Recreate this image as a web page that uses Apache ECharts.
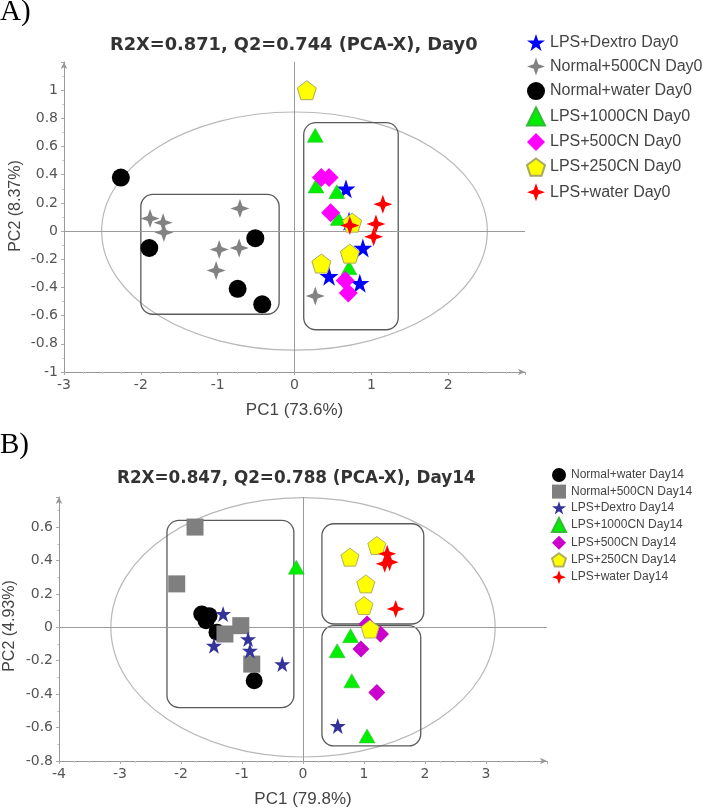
<!DOCTYPE html>
<html><head><meta charset="utf-8">
<script src="https://cdn.jsdelivr.net/npm/echarts@6/dist/echarts.min.js"></script>
<style>html,body{margin:0;padding:0;background:#fff}#c{width:705px;height:809px}</style>
</head><body><div id="c"></div>
<script>
// ---------- Panel A (Day0) ----------
const titleA = 'R2X=0.871, Q2=0.744 (PCA-X), Day0';
const namesA = ['LPS+Dextro Day0','Normal+500CN Day0','Normal+water Day0','LPS+1000CN Day0','LPS+500CN Day0','LPS+250CN Day0','LPS+water Day0'];
const a_dextro      = [[0.67,0.30],[0.71,0.07],[0.89,-0.12],[0.45,-0.32],[0.85,-0.37]];
const a_normal500   = [[-1.88,0.09],[-1.71,0.06],[-1.70,-0.01],[-0.71,0.16],[-0.98,-0.13],[-0.72,-0.12],[-1.02,-0.28],[0.27,-0.46]];
const a_normalWater = [[-2.26,0.38],[-1.89,-0.12],[-0.51,-0.05],[-0.74,-0.41],[-0.42,-0.52]];
const a_lps1000     = [[0.27,0.68],[0.28,0.32],[0.55,0.28],[0.57,0.09],[0.71,-0.26]];
const a_lps500      = [[0.35,0.38],[0.45,0.38],[0.47,0.13],[0.66,-0.35],[0.70,-0.44]];
const a_lps250      = [[0.16,1.0],[0.75,0.06],[0.72,-0.16],[0.35,-0.23]];
const a_lpsWater    = [[1.15,0.19],[1.06,0.05],[1.03,-0.04],[0.72,0.04]];
const xTicksA = [-3,-2,-1,0,1,2];
const yTicksA = [-1,-0.8,-0.6,-0.4,-0.2,0,0.2,0.4,0.6,0.8,1];
const xRangeA = [-3,3];
const yRangeA = [-1,1.2];
const ellipseA = [[0,0,2.51,0.845]];               // centre x, centre y, semi-axis x, semi-axis y
const boxesA = [[-2.0,0.26,-0.2,-0.59],[0.12,0.77,1.35,-0.70]]; // x0, yTop, x1, yBottom

// ---------- Panel B (Day14) ----------
const titleB = 'R2X=0.847, Q2=0.788 (PCA-X), Day14';
const namesB = ['Normal+water Day14','Normal+500CN Day14','LPS+Dextro Day14','LPS+1000CN Day14','LPS+500CN Day14','LPS+250CN Day14','LPS+water Day14'];
const b_normalWater = [[-1.66,0.08],[-1.54,0.07],[-1.59,0.04],[-1.41,-0.03],[-0.80,-0.32]];
const b_normal500   = [[-1.77,0.60],[-2.07,0.26],[-1.02,0.01],[-1.28,-0.04],[-0.84,-0.22]];
const b_dextro      = [[-1.31,0.08],[-1.46,-0.11],[-0.90,-0.07],[-0.87,-0.14],[-0.34,-0.22],[0.57,-0.59]];
const b_lps1000     = [[-0.11,0.36],[0.78,-0.05],[0.56,-0.14],[0.80,-0.32],[1.05,-0.65]];
const b_lps500      = [[1.05,0.02],[1.27,-0.04],[0.95,-0.13],[1.21,-0.39]];
const b_lps250      = [[0.77,0.42],[1.21,0.49],[1.03,0.26],[1.00,0.13],[1.10,-0.01]];
const b_lpsWater    = [[1.38,0.44],[1.34,0.38],[1.42,0.39],[1.52,0.11]];
const xTicksB = [-4,-3,-2,-1,0,1,2,3];
const yTicksB = [-0.8,-0.6,-0.4,-0.2,0,0.2,0.4,0.6];
const xRangeB = [-4,4];
const yRangeB = [-0.8,0.78];
const ellipseB = [[0,0,3.15,0.776]];
const boxesB = [[-2.23,0.64,-0.15,-0.48],[0.31,0.62,1.98,0.02],[0.31,0.01,1.93,-0.71]];

// ---------- symbols ----------
const STAR5 = 'path://M50,0 L61.8,35.4 L99,35.4 L69,57.3 L80.4,92.7 L50,70.8 L19.6,92.7 L31,57.3 L1,35.4 L38.2,35.4 Z';
const STAR4 = 'path://M50,0 L63,37 L100,50 L63,63 L50,100 L37,63 L0,50 L37,37 Z';
const PENTA = 'path://M50,0 L100,36.3 L80.9,95 L19.1,95 L0,36.3 Z';

const TICKFONT = 'DejaVu Sans';
const fmt = ticks => v => ticks.some(t => Math.abs(t - v) < 1e-6) ? String(+v.toFixed(2)) : '';

function ellipseRender(params, api) {
  const c = api.coord([api.value(0), api.value(1)]);
  const s = api.size([api.value(2), api.value(3)]);
  return { type: 'ellipse', shape: { cx: c[0], cy: c[1], rx: s[0], ry: s[1] },
           style: { fill: 'none', stroke: '#b8b8b8', lineWidth: 1.2 }, silent: true };
}
function boxRender(params, api) {
  const p0 = api.coord([api.value(0), api.value(1)]);
  const p1 = api.coord([api.value(2), api.value(3)]);
  return { type: 'rect', shape: { x: p0[0], y: p0[1], width: p1[0] - p0[0], height: p1[1] - p0[1], r: 12 },
           style: { fill: 'none', stroke: '#5a5a5a', lineWidth: 1.3 }, silent: true };
}

function xAxis(gridIndex, range, ticks, name) {
  return {
    type: 'value', gridIndex, min: range[0], max: range[1], interval: ticks[1] - ticks[0],
    name, nameLocation: 'middle', nameGap: 30,
    nameTextStyle: { fontFamily: 'Liberation Sans', fontSize: 17, color: '#444' },
    axisLine: { onZero: false, lineStyle: { color: '#999' }, symbol: ['none', 'arrow'], symbolSize: [5, 7] },
    axisTick: { show: true, length: 3, lineStyle: { color: '#aaa' } },
    minorTick: { show: true, splitNumber: 4, length: 2, lineStyle: { color: '#ccc' } },
    splitLine: { show: false },
    axisLabel: { formatter: fmt(ticks), fontFamily: TICKFONT, fontSize: 14, color: '#555', margin: 6, showMaxLabel: true }
  };
}
function yAxis(gridIndex, range, ticks) {
  return {
    type: 'value', gridIndex, min: range[0], max: range[1], interval: +(ticks[1] - ticks[0]).toFixed(4),
    axisLine: { onZero: false, lineStyle: { color: '#999' }, symbol: ['none', 'arrow'], symbolSize: [5, 7] },
    axisTick: { show: true, length: 3, lineStyle: { color: '#aaa' } },
    minorTick: { show: true, splitNumber: 2, length: 2, lineStyle: { color: '#ccc' } },
    splitLine: { show: false },
    axisLabel: { formatter: fmt(ticks), fontFamily: TICKFONT, fontSize: 14, color: '#555', margin: 6 }
  };
}

const zeroLines = {
  silent: true, symbol: ['none', 'none'], label: { show: false }, animation: false,
  lineStyle: { color: '#9a9a9a', type: 'solid', width: 1 },
  data: [{ xAxis: 0 }, { yAxis: 0 }]
};

function sc(name, data, axisIdx, symbol, size, color, border, borderW) {
  return {
    type: 'scatter', name, data, xAxisIndex: axisIdx, yAxisIndex: axisIdx,
    symbol, symbolSize: size,
    itemStyle: { color, opacity: 1, borderColor: border || color, borderWidth: borderW || 0 },
    emphasis: { disabled: true }, z: 5
  };
}

const series = [
  { type: 'custom', data: ellipseA, xAxisIndex: 0, yAxisIndex: 0, renderItem: ellipseRender, encode: { x: 0, y: 1 }, z: 1, silent: true },
  { type: 'custom', data: boxesA, xAxisIndex: 0, yAxisIndex: 0, renderItem: boxRender, encode: { x: [0, 2], y: [1, 3] }, z: 2, silent: true, markLine: zeroLines },
  sc(namesA[0], a_dextro, 0, STAR5, 19, '#0000ff'),
  sc(namesA[1], a_normal500, 0, STAR4, 19, '#828282'),
  sc(namesA[2], a_normalWater, 0, 'circle', 18, '#000000'),
  sc(namesA[3], a_lps1000, 0, 'triangle', [16, 14], '#00ee00', '#33bb33', 0.5),
  sc(namesA[4], a_lps500, 0, 'diamond', 19, '#ff00ff'),
  sc(namesA[5], a_lps250, 0, PENTA, 19, '#ffff00', '#a8a860', 1),
  sc(namesA[6], a_lpsWater, 0, STAR4, 19, '#ff0000'),

  { type: 'custom', data: ellipseB, xAxisIndex: 1, yAxisIndex: 1, renderItem: ellipseRender, encode: { x: 0, y: 1 }, z: 1, silent: true },
  { type: 'custom', data: boxesB, xAxisIndex: 1, yAxisIndex: 1, renderItem: boxRender, encode: { x: [0, 2], y: [1, 3] }, z: 2, silent: true, markLine: zeroLines },
  sc(namesB[0], b_normalWater, 1, 'circle', 17, '#000000'),
  sc(namesB[1], b_normal500, 1, 'rect', 17, '#7f7f7f'),
  sc(namesB[2], b_dextro, 1, STAR5, 16, '#333399'),
  sc(namesB[3], b_lps1000, 1, 'triangle', [16, 14], '#00ee00', '#33bb33', 0.5),
  sc(namesB[4], b_lps500, 1, 'diamond', 17, '#cc00cc'),
  sc(namesB[5], b_lps250, 1, PENTA, 18, '#ffff00', '#b0b060', 1),
  sc(namesB[6], b_lpsWater, 1, STAR4, 18, '#ff0000')
];

const option = {
  animation: false,
  backgroundColor: '#ffffff',
  title: [
    { text: 'A)', left: 0, top: -2, padding: 0, textStyle: { fontFamily: 'Liberation Serif', fontWeight: 'normal', fontSize: 29, color: '#000' } },
    { text: 'B)', left: 0, top: 431, padding: 0, textStyle: { fontFamily: 'Liberation Serif', fontWeight: 'normal', fontSize: 29, color: '#000' } },
    { text: titleA, left: 110, top: 36, padding: 0, textStyle: { fontFamily: 'DejaVu Sans', fontWeight: 'bold', fontSize: 17.8, color: '#333' } },
    { text: titleB, left: 117, top: 470, padding: 0, textStyle: { fontFamily: 'DejaVu Sans', fontWeight: 'bold', fontSize: 16.8, color: '#333' } }
  ],
  legend: [
    { data: namesA, orient: 'vertical', left: 526, top: 34, itemWidth: 18, itemHeight: 18, itemGap: 6.5,
      padding: 0, selectedMode: false, textStyle: { fontFamily: 'Liberation Sans', fontSize: 16, color: '#444' } },
    { data: namesB, orient: 'vertical', left: 551, top: 468, itemWidth: 14, itemHeight: 14, itemGap: 2.6,
      padding: 0, selectedMode: false, textStyle: { fontFamily: 'Liberation Sans', fontSize: 12, color: '#444' } }
  ],
  grid: [
    { left: 64, right: 180, top: 62, bottom: 437, containLabel: false },
    { left: 59, right: 158, top: 497, bottom: 42, containLabel: false }
  ],
  xAxis: [ xAxis(0, xRangeA, xTicksA, 'PC1 (73.6%)'), xAxis(1, xRangeB, xTicksB, 'PC1 (79.8%)') ],
  yAxis: [ yAxis(0, yRangeA, yTicksA), yAxis(1, yRangeB, yTicksB) ],
  graphic: [
    { type: 'text', x: 16, y: 206, rotation: Math.PI / 2, style: { text: 'PC2 (8.37%)', fontFamily: 'Liberation Sans', fontSize: 16, fill: '#444', align: 'center', verticalAlign: 'middle' } },
    { type: 'text', x: 10, y: 626, rotation: Math.PI / 2, style: { text: 'PC2 (4.93%)', fontFamily: 'Liberation Sans', fontSize: 16, fill: '#444', align: 'center', verticalAlign: 'middle' } }
  ],
  series
};

const chart = echarts.init(document.getElementById('c'), null, { renderer: 'canvas' });
chart.setOption(option);
</script>
</body></html>
